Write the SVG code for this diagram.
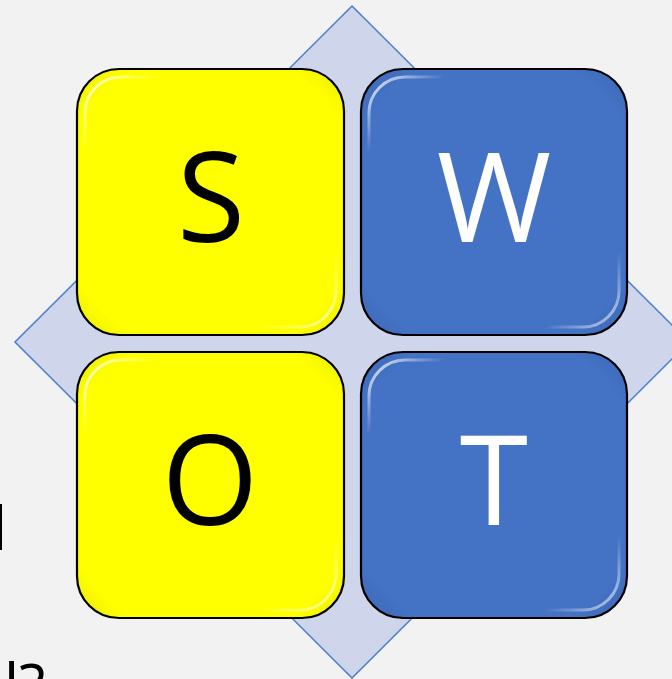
<svg xmlns="http://www.w3.org/2000/svg" width="672" height="679" viewBox="0 0 672 679">
<style>
.box{stroke:#000;stroke-width:2.2}
.lbl{font-family:"Open Sans","Liberation Sans",sans-serif;font-size:124px;text-anchor:middle}
.side{font-family:"Open Sans","Liberation Sans",sans-serif;font-size:60px;fill:#000}
</style>
<defs>
<radialGradient id="gy" cx="0.5" cy="0.5" r="0.72">
<stop offset="0.8" stop-color="#ffff00"/>
<stop offset="1" stop-color="#e6e600"/>
</radialGradient>
<radialGradient id="gb" cx="0.5" cy="0.5" r="0.72">
<stop offset="0.8" stop-color="#4472c4"/>
<stop offset="1" stop-color="#3a64b0"/>
</radialGradient>
<linearGradient id="hl" x1="0" y1="0" x2="1" y2="1">
<stop offset="0" stop-color="#fff" stop-opacity="0.9"/>
<stop offset="0.15" stop-color="#fff" stop-opacity="0"/>
<stop offset="0.85" stop-color="#fff" stop-opacity="0"/>
<stop offset="1" stop-color="#fff" stop-opacity="0.7"/>
</linearGradient>
</defs>
<rect width="672" height="679" fill="#f2f2f2"/>
<text class="side" x="-8" y="550">l</text>
<text class="side" x="4" y="707">l?</text>
<polygon id="diamond" points="352,6 689,342 352,678 15,342" fill="#cfd5ea" stroke="#4a7bd0" stroke-width="1.5"/>
<g id="node-S">
<rect class="box" x="77" y="69" width="267" height="266" rx="42" fill="url(#gy)"/>
<rect x="85" y="77" width="251" height="250" rx="36" fill="none" stroke="url(#hl)" stroke-width="3"/>
<text class="lbl" x="211" y="242" fill="#000">S</text>
</g>
<g id="node-W">
<rect class="box" x="361" y="69" width="266" height="266" rx="42" fill="url(#gb)"/>
<rect x="369" y="77" width="250" height="250" rx="36" fill="none" stroke="url(#hl)" stroke-width="3"/>
<text class="lbl" x="494" y="242" fill="#fff">W</text>
</g>
<g id="node-O">
<rect class="box" x="77" y="352" width="267" height="266" rx="42" fill="url(#gy)"/>
<rect x="85" y="360" width="251" height="250" rx="36" fill="none" stroke="url(#hl)" stroke-width="3"/>
<text class="lbl" x="210" y="525" fill="#000">O</text>
</g>
<g id="node-T">
<rect class="box" x="361" y="352" width="266" height="266" rx="42" fill="url(#gb)"/>
<rect x="369" y="360" width="250" height="250" rx="36" fill="none" stroke="url(#hl)" stroke-width="3"/>
<text class="lbl" x="494" y="525" fill="#fff">T</text>
</g>
<g id="connectors"/>
</svg>
